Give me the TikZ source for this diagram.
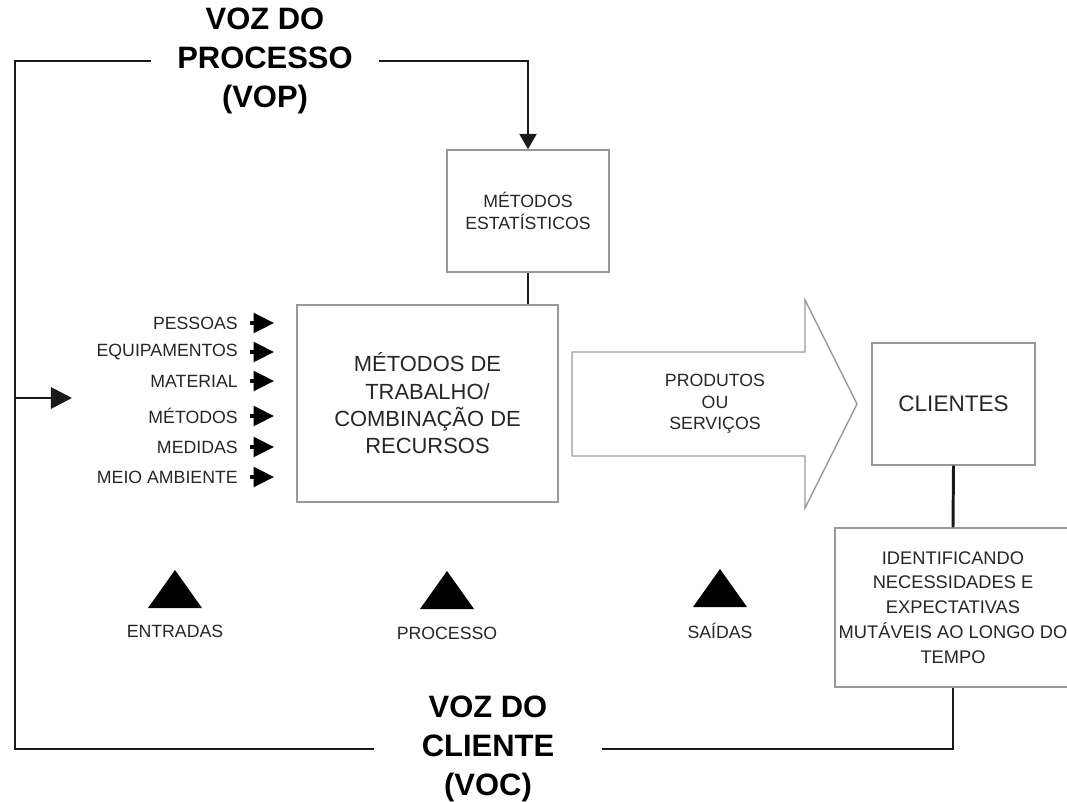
\documentclass[tikz,border=0pt]{standalone}
\usepackage{fontspec}
\setmainfont{Liberation Sans}
\usetikzlibrary{arrows.meta}

\tikzset{
  caixa/.style={draw=black!40, line width=1pt, fill=white, align=center, inner sep=2pt, text=black!85},
  rotulo/.style={inner sep=0pt, text=black!85, font=\fontsize{12.6}{15.4}\selectfont},
  titulo/.style={inner sep=0pt, minimum width=5.7cm, align=center, font=\bfseries\fontsize{22}{27.5}\selectfont},
  liga/.style={line width=2.1pt, black!90},
  entra/.style={line width=2.4pt, -{Triangle[length=14.5pt,width=14pt]}},
  marco/.style={fill=black}
}

\begin{document}
\begin{tikzpicture}[x=0.025cm, y=-0.025cm]
\clip (0,0) rectangle (1067,802);
\fill[white] (0,0) rectangle (1067,802);

% caixas
\node (est) [caixa, minimum width=4.05cm, minimum height=3.05cm, font=\fontsize{12.6}{15.4}\selectfont] at (528,211) {MÉTODOS\\ESTATÍSTICOS};
\node (proc) [caixa, minimum width=6.525cm, minimum height=4.925cm, font=\fontsize{15.6}{19.4}\selectfont] at (427.5,403.5) {MÉTODOS DE\\TRABALHO/\\COMBINAÇÃO DE\\RECURSOS};
\node (cli) [caixa, minimum width=4.075cm, minimum height=3.05cm, font=\fontsize{16}{19}\selectfont] at (953.5,404) {CLIENTES};
\node (ident) [caixa, minimum width=5.9cm, minimum height=3.975cm, font=\fontsize{13}{17.7}\selectfont] at (953,607.5) {IDENTIFICANDO\\NECESSIDADES E\\EXPECTATIVAS\\MUTÁVEIS AO LONGO DO\\TEMPO};

% seta grande
\draw[draw=black!40, line width=1pt, fill=white] (572,352) -- (805,352) -- (805,300) -- (857,404) -- (805,508) -- (805,456) -- (572,456) -- cycle;
\node (saida) [rotulo, align=center] at (715,404) {PRODUTOS\\OU\\SERVIÇOS};

% titulos
\node (vop) [titulo] at (265,61) {VOZ DO\\PROCESSO\\(VOP)};
\node (voc) [titulo] at (488,749) {VOZ DO\\CLIENTE\\(VOC)};
\coordinate (ce) at (15,61);
\coordinate (cb) at (15,749);
\coordinate (ramo) at (15,398);
\coordinate (seta) at (72,398);

% entradas
\node (in1) [rotulo, anchor=east] at (238,323) {PESSOAS};
\node (in2) [rotulo, anchor=east] at (238,352) {EQUIPAMENTOS};
\node (in3) [rotulo, anchor=east] at (238,381) {MATERIAL};
\node (in4) [rotulo, anchor=east] at (238,416) {MÉTODOS};
\node (in5) [rotulo, anchor=east] at (238,447) {MEDIDAS};
\node (in6) [rotulo, anchor=east] at (238,477) {MEIO AMBIENTE};
\draw[entra] (in1.east) ++(12,0) -- ++(24,0);
\draw[entra] (in2.east) ++(12,0) -- ++(24,0);
\draw[entra] (in3.east) ++(12,0) -- ++(24,0);
\draw[entra] (in4.east) ++(12,0) -- ++(24,0);
\draw[entra] (in5.east) ++(12,0) -- ++(24,0);
\draw[entra] (in6.east) ++(12,0) -- ++(24,0);

% marcos
\fill[marco] (148,608) -- (202,608) -- (175,570) -- cycle;
\fill[marco] (420,609) -- (474,609) -- (447,571) -- cycle;
\fill[marco] (693,607) -- (747,607) -- (720,569) -- cycle;
\node (m1) [rotulo] at (175,631) {ENTRADAS};
\node (m2) [rotulo] at (447,633) {PROCESSO};
\node (m3) [rotulo] at (720,631) {SAÍDAS};

% ligacoes
\draw[liga] (vop.west) -- (ce) -- (cb) -- (voc.west);
\draw[liga, -{Triangle[length=11pt,width=12pt]}] (vop.east) -| (est.north);
\draw[liga] (est.south) -- (est.south |- proc.north);
\draw[liga] (cli.south) -- (ident.north);
\draw[liga] (voc.east) -| (ident.south);
\draw[liga, -{Triangle[length=15pt,width=15pt]}] (ramo) -- (seta);
\end{tikzpicture}
\end{document}
